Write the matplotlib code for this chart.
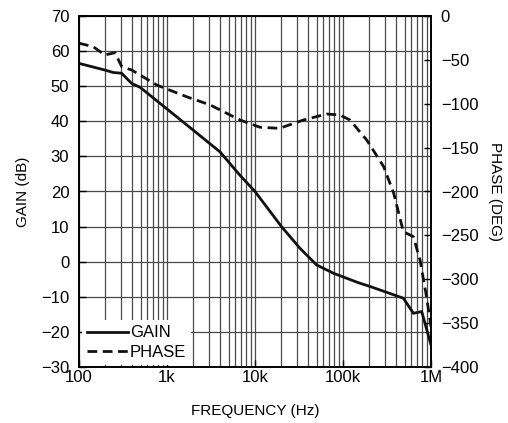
import numpy as np
import matplotlib.pyplot as plt
from matplotlib.ticker import FixedLocator, NullFormatter

plt.rcParams['font.family'] = ['Liberation Sans Narrow', 'Liberation Sans', 'DejaVu Sans']

# gain curve (Hz, dB)
gain_f = [100, 197, 245, 305, 396, 494, 1670, 4000, 6700, 10000, 20000, 32500,
          50000, 78000, 150000, 200000, 485000, 631000, 784000, 1000000]
gain_db = [56.5, 54.6, 53.9, 53.7, 50.8, 49.7, 39.0, 31.3, 24.7, 20.0, 10.0, 3.8,
           -0.9, -3.3, -6.0, -7.0, -10.4, -14.7, -14.2, -23.7]

# phase curve (Hz, deg)
phase_f = [100, 145, 197, 257, 306, 396, 763, 1670, 3100, 6750, 11400, 19000,
           35600, 65000, 92000, 120000, 186000, 290000, 377000, 485000, 630000,
           750000, 890000, 1000000]
phase_deg = [-31, -35, -44.4, -41.8, -57.8, -61.5, -78.6, -92, -101.4, -118.5,
             -126.8, -128, -118.5, -111.7, -112.8, -118.5, -141.3, -171.7, -202,
             -245.8, -251.5, -278, -320, -354]

xticks = [100, 1e3, 1e4, 1e5, 1e6]
xlabels = ['100', '1k', '10k', '100k', '1M']

fig = plt.figure(figsize=(5.08, 4.23), dpi=100)
ax = fig.add_axes([79/508, 1-367/423, 352/508, 351/423])
ax2 = ax.twinx()

ax.set_xscale('log')
ax.set_xlim(100, 1e6)
ax.set_ylim(-30, 70)
ax2.set_ylim(-400, 0)

minors = [m*10**e for e in range(2, 6) for m in range(2, 10)]
ax.xaxis.set_minor_locator(FixedLocator(minors))
ax.xaxis.set_minor_formatter(NullFormatter())
ax.set_xticks(xticks)
ax.set_xticklabels(xlabels)
ax.set_yticks(np.arange(-30, 71, 10))
ax2.set_yticks(np.arange(-400, 1, 50))

ax.grid(True, which='both', axis='x', color='#4a4a4a', lw=0.9)
ax.grid(True, which='major', axis='y', color='#4a4a4a', lw=0.9)
ax.set_axisbelow(True)

l1, = ax.plot(gain_f, gain_db, color='#111111', lw=2.0, label='GAIN')
l2, = ax2.plot(phase_f, phase_deg, color='#111111', lw=2.0, ls=(0, (3.5, 2)), label='PHASE')

for a in (ax, ax2):
    a.tick_params(labelsize=12, direction='in', length=5, width=1)
    for s in a.spines.values():
        s.set_linewidth(1.2)
ax.tick_params(which='minor', length=0)
ax.tick_params(axis='x', pad=2)
ax.tick_params(axis='y', pad=7)
ax2.tick_params(axis='y', pad=7)

ax.set_xlabel('FREQUENCY (Hz)', fontsize=11, labelpad=14)
ax.set_ylabel('GAIN (dB)', fontsize=11, labelpad=8)
ax2.set_ylabel('PHASE (DEG)', fontsize=11, rotation=-90, labelpad=17)

leg = ax2.legend([l1, l2], ['GAIN', 'PHASE'], loc='lower left', fontsize=12,
                 frameon=True, fancybox=False, framealpha=1, edgecolor='white',
                 handlelength=2.5, handletextpad=0.1, borderaxespad=0.15,
                 labelspacing=0.25, borderpad=0.3)
leg.get_frame().set_linewidth(0)

fig.savefig('out.png', dpi=100)
